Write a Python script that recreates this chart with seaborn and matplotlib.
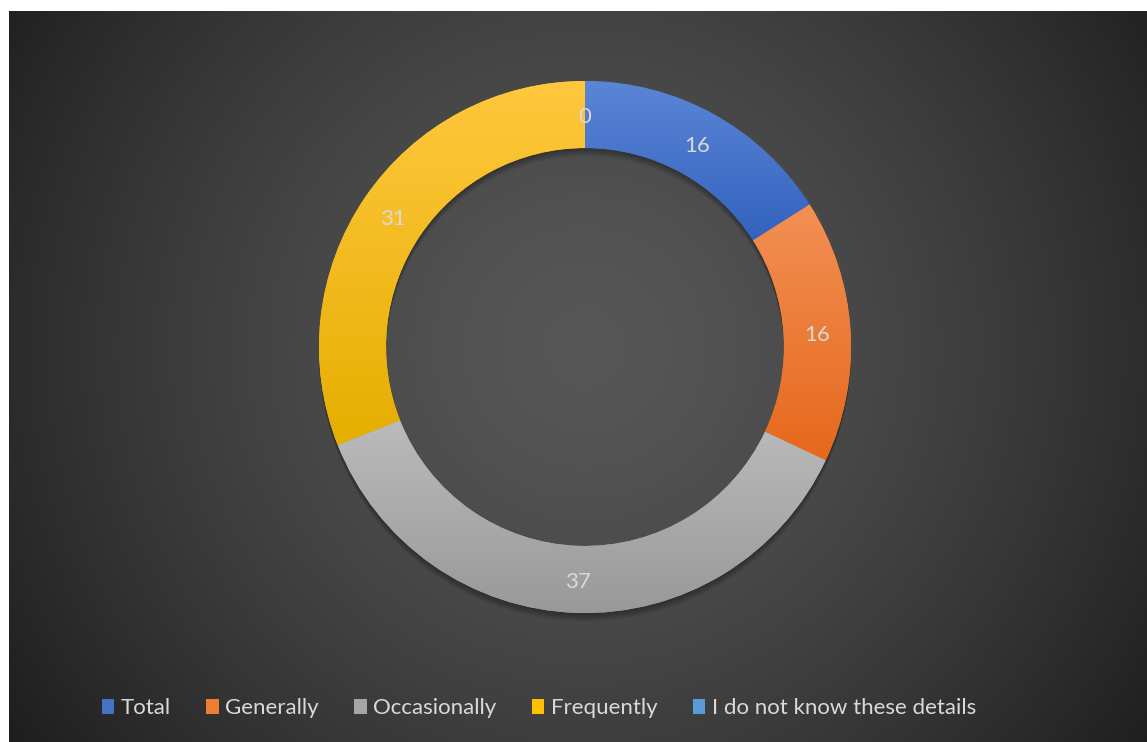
import numpy as np
import matplotlib
matplotlib.use("Agg")
import matplotlib.pyplot as plt
from matplotlib.patches import Wedge, Patch
from matplotlib.colors import LinearSegmentedColormap
import seaborn as sns

# ---- data ----
categories = ["Total", "Generally", "Occasionally", "Frequently", "I do not know these details"]
values = [16, 16, 37, 31, 0]
base_colors = ["#4472C4", "#ED7D31", "#A5A5A5", "#FFC000", "#5B9BD5"]
grad_top = ["#5b86d6", "#f29055", "#bbbbbb", "#ffc83e", "#6aa6dc"]
grad_bottom = ["#3363bf", "#e6681b", "#999999", "#e6ae00", "#4a8ac8"]

sns.set_theme(style="white")
plt.rcParams["font.family"] = ["Lato", "DejaVu Sans"]

W, H = 1147, 742
fig = plt.figure(figsize=(W / 100, H / 100), dpi=100, facecolor="white")

# ---- background with radial gradient ----
bx0, by0 = 9, 11
bg = fig.add_axes([bx0 / W, 0, (W - bx0) / W, (H - by0) / H])
bg.set_axis_off()
bw, bh = W - bx0, H - by0
yy, xx = np.mgrid[0:bh, 0:bw]
cx, cy = 585 - bx0, 347 - by0
d = np.hypot(xx - cx, yy - cy) / 670.0
c = 87 - 54 * np.clip(d, 0, 1.1) ** 1.4
c = np.clip(c, 0, 255) / 255.0
img = np.dstack([c, c, c])
bg.imshow(img, extent=[0, bw, bh, 0], aspect="auto", interpolation="bilinear")
bg.set_xlim(0, bw)
bg.set_ylim(bh, 0)

# ---- donut ----
R_px = 266
half = 300
ax = fig.add_axes([(585 - half) / W, (H - 347 - half) / H, 2 * half / W, 2 * half / H])
ax.set_axis_off()
lim = half / R_px
ax.set_xlim(-lim, lim)
ax.set_ylim(-lim, lim)
ring_w = 0.252

# soft shadow
for k in range(1, 8):
    sh = Wedge((0, -k * 0.0045), 1.0, 0, 360, width=ring_w, facecolor="black",
               edgecolor="none", alpha=0.05, zorder=1)
    ax.add_patch(sh)

wedges, _ = ax.pie(values, startangle=90, counterclock=False, radius=1.0,
                   colors=base_colors, wedgeprops=dict(width=ring_w, edgecolor="none"),
                   normalize=True)
for w in wedges:
    w.set_zorder(2)

ax.set_xlim(-lim, lim)
ax.set_ylim(-lim, lim)
ax.set_aspect("equal")

fig.canvas.draw()
inv = ax.transData.inverted()
for i, w in enumerate(wedges):
    if values[i] <= 0:
        continue
    verts = inv.transform(w.get_verts())
    x0, x1 = verts[:, 0].min(), verts[:, 0].max()
    y0, y1 = verts[:, 1].min(), verts[:, 1].max()
    cmap = LinearSegmentedColormap.from_list(f"g{i}", [grad_bottom[i], grad_top[i]])
    grad = np.linspace(0, 1, 256).reshape(-1, 1)
    im = ax.imshow(grad, cmap=cmap, extent=[x0, x1, y0, y1], origin="lower",
                   aspect="auto", zorder=3, interpolation="bilinear")
    im.set_clip_path(w)

ax.set_xlim(-lim, lim)
ax.set_ylim(-lim, lim)

# data labels
r_mid = 1.0 - ring_w / 2
for i, w in enumerate(wedges):
    ang = np.deg2rad((w.theta1 + w.theta2) / 2)
    ax.text(r_mid * np.cos(ang), r_mid * np.sin(ang) - 0.01, f"{values[i]}",
            ha="center", va="center", color="#d9d9d9", fontsize=16, zorder=5)

# legend
handles = [Patch(facecolor=base_colors[i], edgecolor="none") for i in range(len(categories))]
leg = fig.legend(handles, categories, loc="center", bbox_to_anchor=(539 / W, 1 - 708 / H),
                 ncol=5, frameon=False, fontsize=16, labelcolor="#d9d9d9",
                 handlelength=0.55, handleheight=0.65, handletextpad=0.3,
                 columnspacing=1.6)

fig.savefig("out.png", dpi=100, facecolor="white")
